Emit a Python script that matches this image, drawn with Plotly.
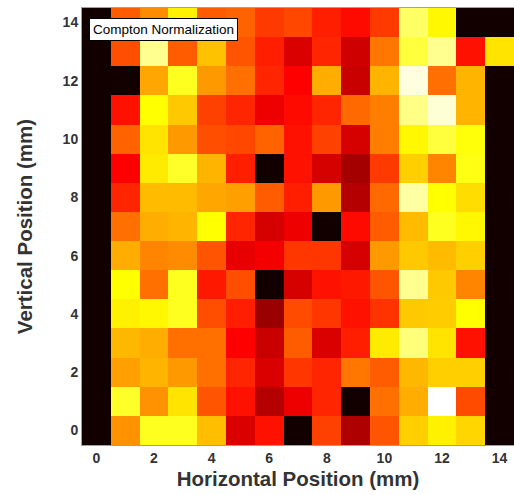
import plotly.graph_objects as go

# Detector grid positions (mm)
x_pos = list(range(15))
y_pos = list(range(15))
x_ticks = [0, 2, 4, 6, 8, 10, 12, 14]
y_ticks = [0, 2, 4, 6, 8, 10, 12, 14]

# Normalized Compton intensity, one row per vertical position (0 mm at bottom)
row_0 = [0.01, 0.59, 0.78, 0.78, 0.655, 0.32, 0.40, 0.01, 0.47, 0.25, 0.50, 0.68, 0.73, 0.69, 0.01]
row_1 = [0.01, 0.79, 0.59, 0.71, 0.50, 0.40, 0.26, 0.35, 0.43, 0.01, 0.54, 0.63, 1.00, 0.485, 0.01]
row_2 = [0.01, 0.61, 0.64, 0.60, 0.54, 0.43, 0.32, 0.455, 0.43, 0.55, 0.51, 0.645, 0.68, 0.68, 0.01]
row_3 = [0.01, 0.645, 0.63, 0.54, 0.54, 0.375, 0.29, 0.51, 0.32, 0.42, 0.72, 0.87, 0.71, 0.40, 0.01]
row_4 = [0.01, 0.73, 0.74, 0.78, 0.49, 0.42, 0.22, 0.485, 0.455, 0.40, 0.45, 0.67, 0.675, 0.75, 0.01]
row_5 = [0.01, 0.75, 0.54, 0.78, 0.41, 0.49, 0.01, 0.31, 0.40, 0.41, 0.50, 0.89, 0.67, 0.57, 0.01]
row_6 = [0.01, 0.63, 0.57, 0.58, 0.50, 0.34, 0.36, 0.455, 0.455, 0.31, 0.60, 0.67, 0.65, 0.68, 0.01]
row_7 = [0.01, 0.54, 0.63, 0.64, 0.75, 0.43, 0.31, 0.35, 0.01, 0.39, 0.51, 0.65, 0.78, 0.74, 0.01]
row_8 = [0.01, 0.43, 0.65, 0.65, 0.62, 0.61, 0.51, 0.42, 0.60, 0.26, 0.53, 0.91, 0.75, 0.70, 0.01]
row_9 = [0.01, 0.375, 0.72, 0.79, 0.64, 0.42, 0.01, 0.40, 0.31, 0.235, 0.46, 0.68, 0.57, 0.77, 0.01]
row_10 = [0.01, 0.52, 0.71, 0.60, 0.49, 0.48, 0.52, 0.40, 0.47, 0.31, 0.56, 0.74, 0.81, 0.76, 0.01]
row_11 = [0.01, 0.40, 0.75, 0.67, 0.47, 0.43, 0.35, 0.39, 0.43, 0.53, 0.56, 0.88, 0.96, 0.64, 0.01]
row_12 = [0.01, 0.01, 0.62, 0.78, 0.60, 0.54, 0.43, 0.375, 0.63, 0.29, 0.64, 0.97, 0.54, 0.64, 0.01]
row_13 = [0.01, 0.49, 0.89, 0.51, 0.66, 0.50, 0.42, 0.32, 0.43, 0.30, 0.55, 0.81, 0.89, 0.40, 0.71]
row_14 = [0.01, 0.51, 0.58, 0.73, 0.51, 0.52, 0.46, 0.48, 0.42, 0.39, 0.46, 0.85, 0.74, 0.01, 0.01]

z = [row_0, row_1, row_2, row_3, row_4, row_5, row_6, row_7,
     row_8, row_9, row_10, row_11, row_12, row_13, row_14]

# "hot" colormap: black -> red -> yellow -> white
hot = [
    [0.0, "rgb(11,0,0)"],
    [0.375, "rgb(255,0,0)"],
    [0.75, "rgb(255,255,0)"],
    [1.0, "rgb(255,255,255)"],
]

fig = go.Figure(
    go.Heatmap(
        x=x_pos,
        y=y_pos,
        z=z,
        zmin=0,
        zmax=1,
        colorscale=hot,
        showscale=False,
    )
)

axis_font = dict(family="Liberation Sans, Arial, sans-serif", size=14, color="#333333", weight="bold")
title_font = dict(family="Liberation Sans, Arial, sans-serif", size=20.5, color="#333333", weight="bold")

fig.update_layout(
    width=514,
    height=495,
    margin=dict(l=82, r=0, t=8, b=50),
    paper_bgcolor="white",
    plot_bgcolor="white",
    xaxis=dict(
        range=[-0.5, 14.5],
        tickvals=x_ticks,
        ticktext=[str(v) for v in x_ticks],
        tickfont=axis_font,
        title=dict(text="Horizontal Position (mm)", font=title_font, standoff=6),
        showline=True,
        mirror=True,
        linecolor="#a0a0a0",
        linewidth=1,
        ticks="",
        showgrid=False,
        zeroline=False,
    ),
    yaxis=dict(
        range=[-0.5, 14.5],
        tickvals=y_ticks,
        ticktext=[str(v) for v in y_ticks],
        tickfont=axis_font,
        title=dict(text="Vertical Position (mm)", font=title_font, standoff=24),
        showline=True,
        mirror=True,
        linecolor="#a0a0a0",
        linewidth=1,
        ticks="",
        showgrid=False,
        zeroline=False,
    ),
    annotations=[
        dict(
            text="Compton Normalization",
            xref="paper",
            yref="paper",
            x=0.016,
            y=0.977,
            xanchor="left",
            yanchor="top",
            showarrow=False,
            font=dict(family="Liberation Sans, Arial, sans-serif", size=13.5, color="black"),
            bgcolor="white",
            bordercolor="black",
            borderwidth=1,
            borderpad=3,
        )
    ],
)

fig.write_html("out.html")
